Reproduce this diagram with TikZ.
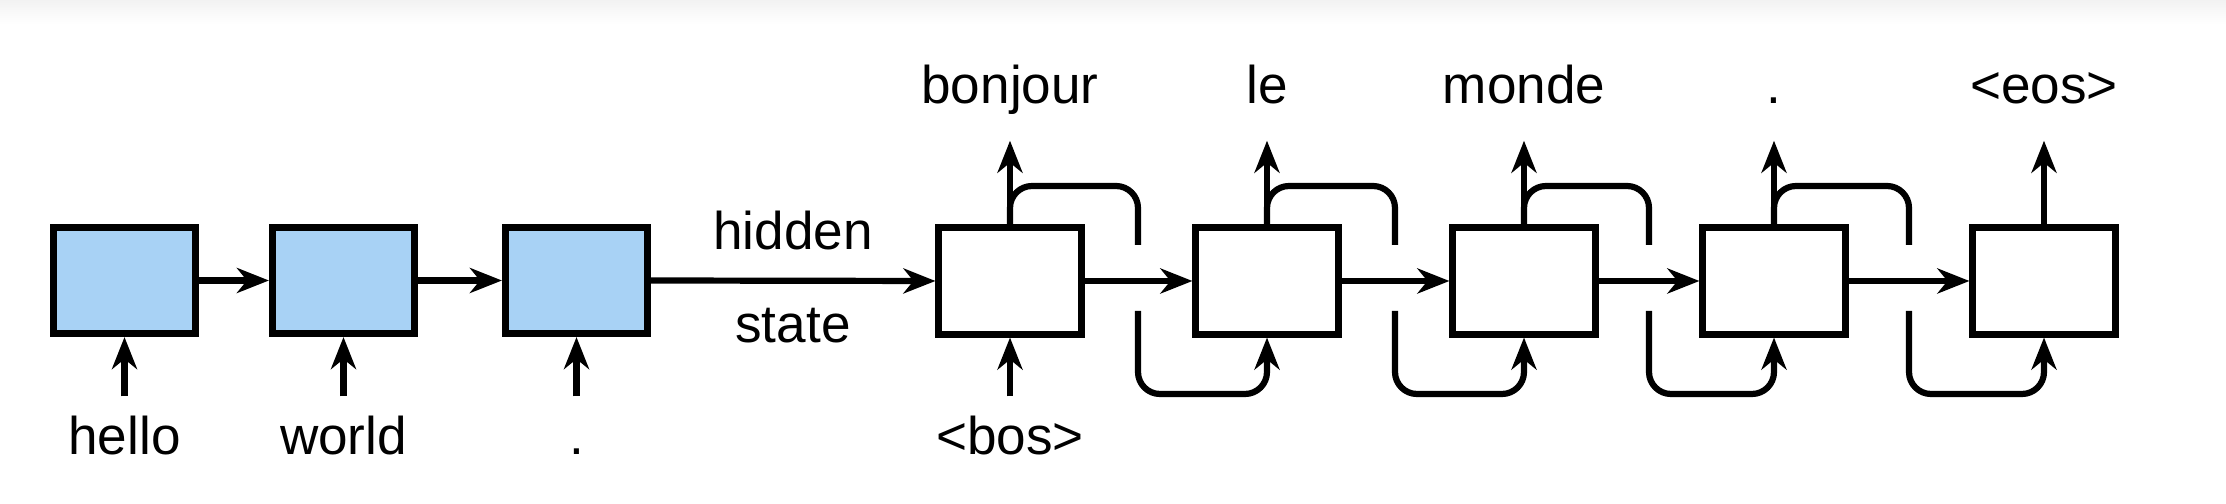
\documentclass[tikz,border=0pt]{standalone}
\usepackage{fontspec}
\setmainfont{Liberation Sans}
\usetikzlibrary{arrows.meta}
\definecolor{encblue}{RGB}{168,210,245}
\begin{document}
\begin{tikzpicture}[x=0.01cm,y=-0.01cm,
  box/.style={draw=black, line width=0.07cm, minimum width=1.42cm, minimum height=1.06cm, inner sep=0pt},
  enc/.style={box, fill=encblue},
  dec/.style={box, fill=white},
  tip/.style={-{Stealth[length=0.32cm,width=0.25cm,inset=0.1cm]}},
  conn/.style={line width=0.062cm, tip},
  word/.style={font=\fontsize{15.1}{18}\selectfont, anchor=base, inner sep=0pt, text height=0.39cm, text depth=0.11cm},
  fb/.style={line width=0.062cm, rounded corners=0.22cm, tip}]
\useasboundingbox (0,0) rectangle (2226,504);
\shade[top color=black!5, bottom color=white] (0,0) rectangle (2226,24);

% encoder
\node[enc] (e1) at (124.5,280.5) {};
\node[enc] (e2) at (343.5,280.5) {};
\node[enc] (e3) at (576.5,280.5) {};
% decoder
\node[dec] (d1) at (1010,281) {};
\node[dec] (d2) at (1267,281) {};
\node[dec] (d3) at (1524,281) {};
\node[dec] (d4) at (1774,281) {};
\node[dec] (d5) at (2044,281) {};

% input words
\node[word] (x1) at (124.5,455) {hello};
\node[word] (x2) at (343.5,455) {world};
\node[word] (x3) at (576.5,455) {.};
\node[word] (x4) at (1010,455) {<bos>};
\foreach \a/\b in {x1/e1,x2/e2,x3/e3,x4/d1}
  \draw[conn, shorten <=0.19cm] (\a.north) -- (\b.south);

% output words
\node[word] (y1) at (1010,104) {bonjour};
\node[word] (y2) at (1267,104) {le};
\node[word] (y3) at (1524,104) {monde};
\node[word] (y4) at (1774,104) {.};
\node[word] (y5) at (2044,104) {<eos>};
\foreach \a/\b in {d1/y1,d2/y2,d3/y3,d4/y4,d5/y5}
  \draw[conn, shorten >=0.25cm] (\a.north) -- (\b.south);

% recurrent arrows
\draw[conn] (e1.east) -- (e2.west);
\draw[conn] (e2.east) -- (e3.west);
\draw[conn] (e3.east) -- (d1.west);
\draw[conn] (d1.east) -- (d2.west);
\draw[conn] (d2.east) -- (d3.west);
\draw[conn] (d3.east) -- (d4.west);
\draw[conn] (d4.east) -- (d5.west);
\node[word] (hid) at (793,250) {hidden};
\node[word] (st) at (793,343) {state};

% feedback loops (output fed as next input)
\foreach \a/\b/\m in {d1/d2/1138,d2/d3/1395,d3/d4/1649,d4/d5/1909}{
  \coordinate (t\a) at (\m,186);
  \coordinate (ga\a) at (\m,245);
  \coordinate (gb\a) at (\m,311);
  \coordinate (bt\a) at (\m,394);
  \draw[fb] (\a.north) |- (t\a) -- (ga\a) (gb\a) -- (bt\a) -| (\b.south);
}
\end{tikzpicture}
\end{document}
